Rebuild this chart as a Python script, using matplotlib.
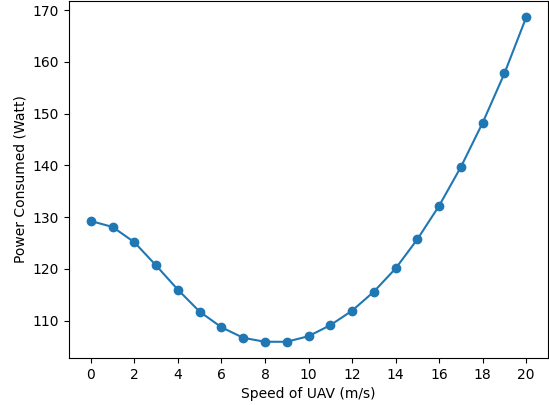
import matplotlib
matplotlib.use("Agg")
import matplotlib.pyplot as plt

speed = list(range(0, 21))
power = [129.25, 128.1, 125.15, 120.65, 115.97, 111.73, 108.71, 106.67, 105.9, 105.9,
         106.98, 109.1, 111.9, 115.58, 120.07, 125.72, 132.2, 139.7, 148.25, 157.8, 168.65]

fig = plt.figure(figsize=(5.49, 4.05), dpi=100)
ax = fig.add_axes([69/549, 47/405, (548-69)/549, (358-1)/405])
ax.plot(speed, power, marker='o', color='#1f77b4')
ax.set_xticks(range(0, 21, 2))
ax.set_xlabel("Speed of UAV (m/s)")
ax.set_ylabel("Power Consumed (Watt)")
fig.savefig("out.png", dpi=100)
